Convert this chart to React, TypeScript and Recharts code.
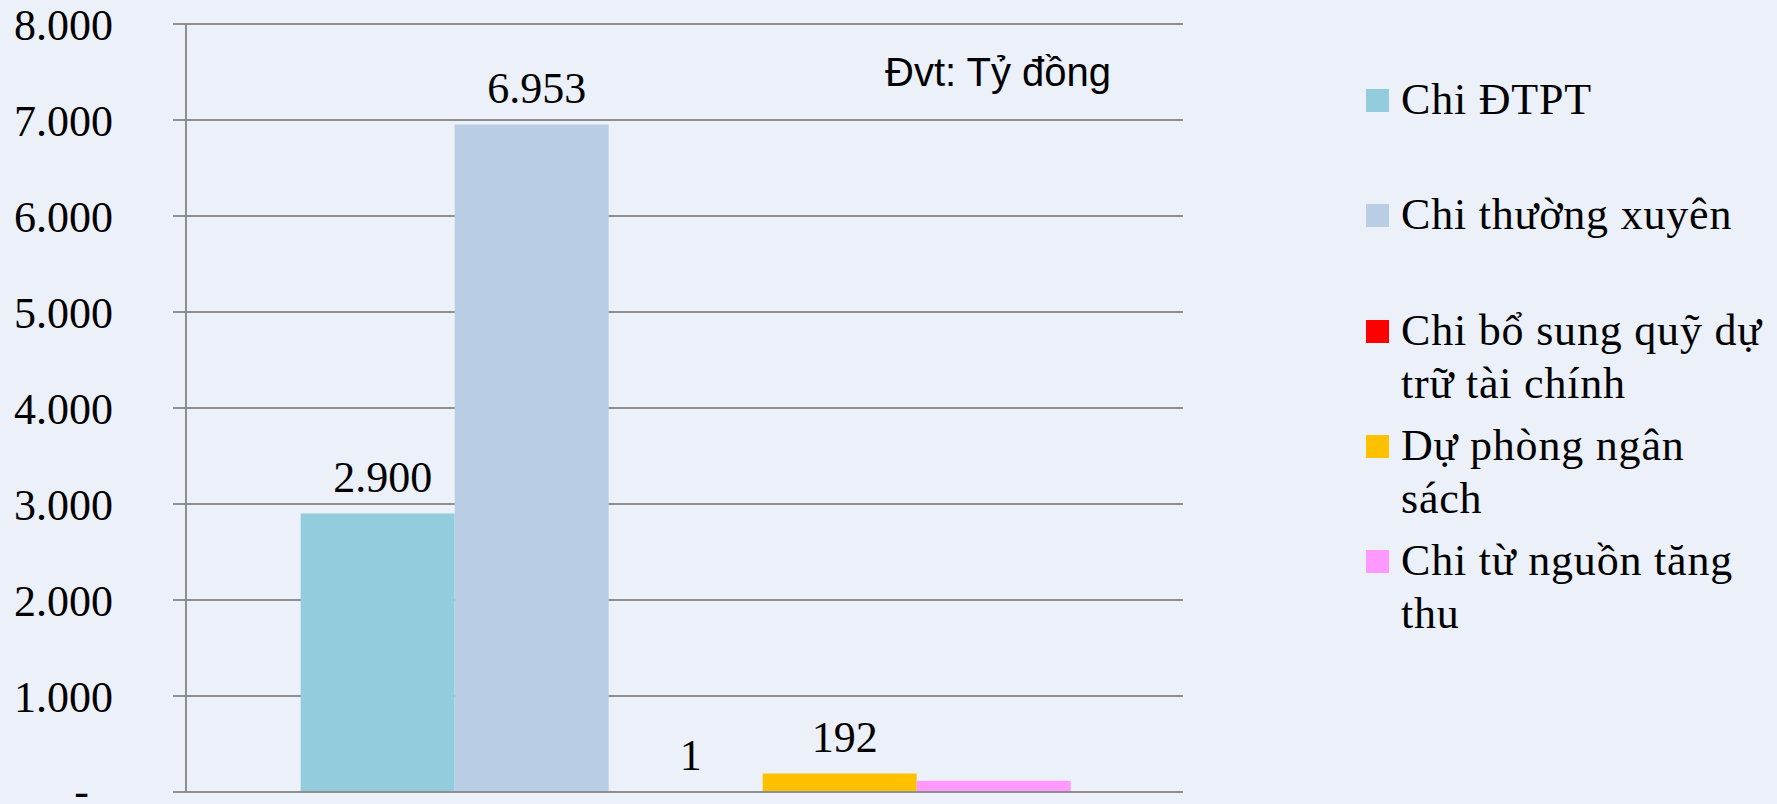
import React from 'react';
import { BarChart, Bar, XAxis, YAxis, CartesianGrid, LabelList } from 'recharts';

const categories = ['Chi ngân sách'];
const legendLines = [
  ['Chi ĐTPT'],
  ['Chi thường xuyên'],
  ['Chi bổ sung quỹ dự', 'trữ tài chính'],
  ['Dự phòng ngân', 'sách'],
  ['Chi từ nguồn tăng', 'thu'],
];
const seriesNames = legendLines.map((l) => l.join(' '));
const seriesValues = [2900, 6953, 1, 192, 118];
const seriesShowLabel = [true, true, true, true, false];
const yTicks = [0, 1000, 2000, 3000, 4000, 5000, 6000, 7000, 8000];
const unitNote = 'Đvt: Tỷ đồng';

const seriesColors = ['#93CDDD', '#B9CDE5', '#FF0000', '#FFC000', '#FF99FF'];

const SERIF = "'Liberation Serif', 'Times New Roman', serif";
const SANS = "'Liberation Sans', Arial, sans-serif";
const GRID = '#8E8E8E';
const BG = '#ECF0F9';

const fmt = (v: number) => String(Math.round(v)).replace(/\B(?=(\d{3})+(?!\d))/g, '.');

const data = categories.map((c) => {
  const row: Record<string, any> = { name: c };
  seriesNames.forEach((_, i) => {
    row['s' + i] = seriesValues[i];
  });
  return row;
});

const YTick = (props: any) => {
  const { x, y, payload } = props;
  const v = Number(payload.value);
  return (
    <text
      x={v === 0 ? x - 24 : x}
      y={v === 0 ? y - 2 : y}
      dy="0.355em"
      textAnchor="end"
      fontFamily={SERIF}
      fontSize={44}
      fill="#000"
    >
      {v === 0 ? '-' : fmt(v)}
    </text>
  );
};

const renderLabel = (props: any) => {
  const x = Number(props.x);
  const y = Number(props.y);
  const w = Number(props.width);
  return (
    <text
      x={x + w / 2 + 5}
      y={y - 22}
      textAnchor="middle"
      fontFamily={SERIF}
      fontSize={44}
      fill="#000"
    >
      {fmt(Number(props.value))}
    </text>
  );
};

export default function App() {
  return (
    <div
      style={{
        position: 'absolute',
        left: 0,
        top: 0,
        width: 1777,
        height: 804,
        background: BG,
        overflow: 'hidden',
      }}
    >
      <BarChart
        width={1777}
        height={804}
        data={data}
        margin={{ top: 24, right: 594, bottom: 0, left: 0 }}
        barCategoryGap="11.5%"
        barGap={0}
      >
        <CartesianGrid horizontal vertical={false} stroke={GRID} strokeWidth={2} />
        <XAxis xAxisId="cat" dataKey="name" hide />
        <XAxis
          type="number"
          domain={[0, 1]}
          ticks={[0, 1]}
          allowDataOverflow
          height={12}
          tickSize={14}
          tick={false}
          stroke={GRID}
          strokeWidth={2}
        />
        <YAxis
          domain={[0, 8000]}
          ticks={yTicks}
          width={186}
          tickSize={13}
          tickMargin={60}
          tick={<YTick />}
          stroke={GRID}
          strokeWidth={2}
          interval={0}
        />
        {seriesNames.map((n, i) => (
          <Bar
            key={n}
            xAxisId="cat"
            dataKey={'s' + i}
            name={n}
            fill={seriesColors[i]}
            isAnimationActive={false}
          >
            {seriesShowLabel[i] && (
              <LabelList dataKey={'s' + i} content={renderLabel} />
            )}
          </Bar>
        ))}
      </BarChart>

      <div
        style={{
          position: 'absolute',
          left: 885,
          top: 52,
          fontFamily: SANS,
          fontSize: 40,
          lineHeight: '40px',
          color: '#000',
          whiteSpace: 'nowrap',
        }}
      >
        {unitNote}
      </div>

      {legendLines.map((lines, i) => (
        <div
          key={i}
          style={{
            position: 'absolute',
            left: 1366,
            top: 73 + i * 115.35,
            width: 410,
          }}
        >
          <div
            style={{
              position: 'absolute',
              left: 0,
              top: 16,
              width: 23,
              height: 23,
              background: seriesColors[i],
            }}
          />
          <div
            style={{
              position: 'absolute',
              left: 35,
              top: 0,
              fontFamily: SERIF,
              fontSize: 44,
              lineHeight: '53px',
              letterSpacing: '0.8px',
              color: '#000',
              whiteSpace: 'nowrap',
            }}
          >
            {lines.map((t, j) => (
              <div key={j}>{t}</div>
            ))}
          </div>
        </div>
      ))}
    </div>
  );
}
